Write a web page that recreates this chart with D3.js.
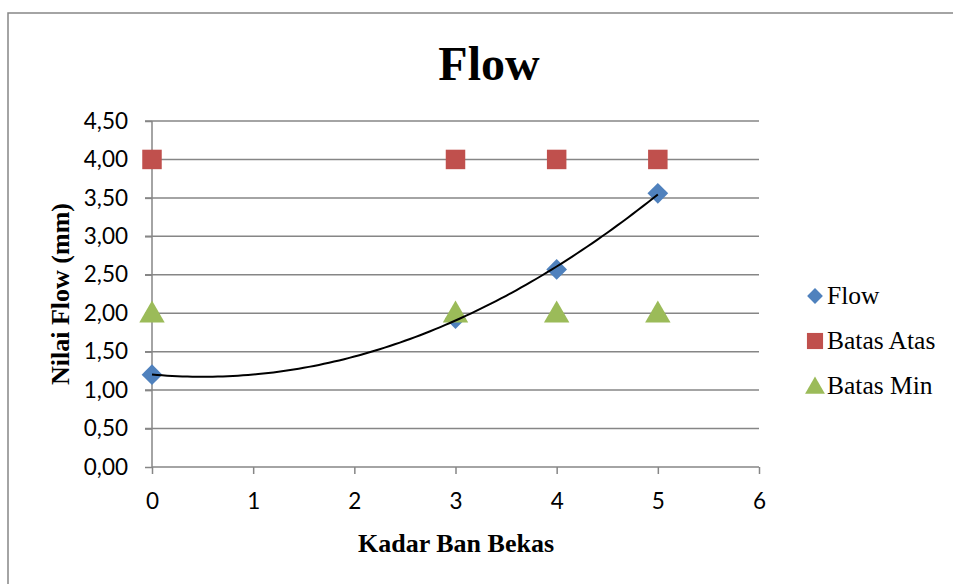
<!DOCTYPE html>
<html>
<head>
<meta charset="utf-8">
<script src="https://cdn.jsdelivr.net/npm/d3@7"></script>
<style>
  body { margin: 0; background: #fff; }
  svg { display: block; }
</style>
</head>
<body>
<div id="chart"></div>
<script>
// data
var kadar = [0, 3, 4, 5];
var flow = [1.20, 1.93, 2.57, 3.56];
var batasAtas = [4, 4, 4, 4];
var batasMin = [2, 2, 2, 2];
var seriesNames = ["Flow", "Batas Atas", "Batas Min"];
var xTicks = [0, 1, 2, 3, 4, 5, 6];
var yTicks = [0, 0.5, 1, 1.5, 2, 2.5, 3, 3.5, 4, 4.5];

var W = 953, H = 584;
var margin = {top: 121, right: 194, bottom: 117, left: 152},
    width = W - margin.left - margin.right,
    height = H - margin.top - margin.bottom;

var grey = "#868686";
var colors = ["#4F81BD", "#C0504D", "#9BBB59"];
// diamond = square turned 45 degrees
var shapes = [d3.symbolSquare, d3.symbolSquare, d3.symbolTriangle];
var turn = [45, 0, 0];

var svg = d3.select("#chart").append("svg")
    .attr("width", W)
    .attr("height", H);

// chart border (right and bottom sides fall outside the picture)
svg.append("rect")
    .attr("x", 8).attr("y", 13)
    .attr("width", 970).attr("height", 600)
    .attr("fill", "none")
    .attr("stroke", grey)
    .attr("stroke-width", 1.5);

var g = svg.append("g")
    .attr("transform", "translate(" + margin.left + "," + margin.top + ")");

var x = d3.scaleLinear().domain([0, 6]).range([0, width]);
var y = d3.scaleLinear().domain([0, 4.5]).range([height, 0]);

// gridlines
g.selectAll(".grid")
    .data(yTicks.slice(1))
    .enter().append("line")
    .attr("x1", -7).attr("x2", width)
    .attr("y1", function(d) { return y(d); })
    .attr("y2", function(d) { return y(d); })
    .attr("stroke", grey)
    .attr("stroke-width", 1.5);

var fmt = function(d) { return d3.format(".2f")(d).replace(".", ","); };

// y axis
var yAxis = g.append("g")
    .call(d3.axisLeft(y).tickValues(yTicks).tickFormat(fmt).tickSize(7).tickPadding(17));
// x axis
var xAxis = g.append("g")
    .attr("transform", "translate(0," + height + ")")
    .call(d3.axisBottom(x).tickValues(xTicks).tickFormat(d3.format("d")).tickSize(7).tickPadding(19));

[yAxis, xAxis].forEach(function(a) {
    a.select(".domain").attr("stroke", grey).attr("stroke-width", 1.5);
    a.selectAll(".tick line").attr("stroke", grey).attr("stroke-width", 1.5);
    a.selectAll(".tick text")
        .attr("fill", "#000")
        .style("font-family", "Lato, 'Open Sans', sans-serif")
        .style("font-size", "22.5px");
});
xAxis.select(".domain").attr("d", "M0,0H" + width);
yAxis.select(".domain").attr("d", "M0," + height + "V0");

// series
var allSeries = [flow, batasAtas, batasMin];
var sizes = [215, 380, 280];
allSeries.forEach(function(vals, i) {
    g.selectAll(".s" + i)
        .data(kadar.map(function(k, j) { return {x: k, y: vals[j]}; }))
        .enter().append("path")
        .attr("class", "s" + i)
        .attr("transform", function(d) {
            var dy = i === 2 ? 2 : 0;
            return "translate(" + x(d.x) + "," + (y(d.y) + dy) + ") rotate(" + turn[i] + ")";
        })
        .attr("d", d3.symbol().type(shapes[i]).size(sizes[i]))
        .attr("fill", colors[i]);
});

// polynomial (order 2) trendline of Flow, least squares
function polyFit2(xs, ys) {
    var n = xs.length, s = [0, 0, 0, 0, 0], t = [0, 0, 0];
    for (var i = 0; i < n; i++) {
        for (var p = 0; p <= 4; p++) s[p] += Math.pow(xs[i], p);
        for (var q = 0; q <= 2; q++) t[q] += ys[i] * Math.pow(xs[i], q);
    }
    var A = [[s[0], s[1], s[2], t[0]], [s[1], s[2], s[3], t[1]], [s[2], s[3], s[4], t[2]]];
    for (var c = 0; c < 3; c++) {
        for (var r = c + 1; r < 3; r++) {
            var f = A[r][c] / A[c][c];
            for (var k = c; k < 4; k++) A[r][k] -= f * A[c][k];
        }
    }
    var coef = [0, 0, 0];
    for (var r2 = 2; r2 >= 0; r2--) {
        var sum = A[r2][3];
        for (var k2 = r2 + 1; k2 < 3; k2++) sum -= A[r2][k2] * coef[k2];
        coef[r2] = sum / A[r2][r2];
    }
    return coef;
}
var coef = polyFit2(kadar, flow);
var trendX = d3.range(0, 5.001, 0.05);
g.append("path")
    .datum(trendX)
    .attr("fill", "none")
    .attr("stroke", "#000")
    .attr("stroke-width", 2)
    .attr("d", d3.line()
        .x(function(d) { return x(d); })
        .y(function(d) { return y(coef[0] + coef[1] * d + coef[2] * d * d); }));

// title
svg.append("text")
    .attr("x", 489).attr("y", 80)
    .attr("text-anchor", "middle")
    .style("font-family", "'Liberation Serif', 'Times New Roman', serif")
    .style("font-weight", "bold")
    .style("font-size", "48px")
    .text("Flow");

// axis titles
svg.append("text")
    .attr("x", 456).attr("y", 552)
    .attr("text-anchor", "middle")
    .style("font-family", "'Liberation Serif', 'Times New Roman', serif")
    .style("font-weight", "bold")
    .style("font-size", "26px")
    .text("Kadar Ban Bekas");

svg.append("text")
    .attr("transform", "translate(69,294) rotate(-90)")
    .attr("text-anchor", "middle")
    .style("font-family", "'Liberation Serif', 'Times New Roman', serif")
    .style("font-weight", "bold")
    .style("font-size", "26px")
    .text("Nilai Flow (mm)");

// legend
var legendY = [296, 341, 386];
var legend = svg.selectAll(".legend")
    .data(seriesNames)
    .enter().append("g")
    .attr("transform", function(d, i) { return "translate(815," + legendY[i] + ")"; });
legend.append("path")
    .attr("d", function(d, i) { return d3.symbol().type(shapes[i]).size([125, 260, 170][i])(); })
    .attr("transform", function(d, i) { return (i === 2 ? "translate(0,2)" : "") + " rotate(" + turn[i] + ")"; })
    .attr("fill", function(d, i) { return colors[i]; });
legend.append("text")
    .attr("x", 12).attr("y", 8)
    .style("font-family", "'Liberation Serif', 'Times New Roman', serif")
    .style("font-size", "25.5px")
    .text(function(d) { return d; });
</script>
</body>
</html>
